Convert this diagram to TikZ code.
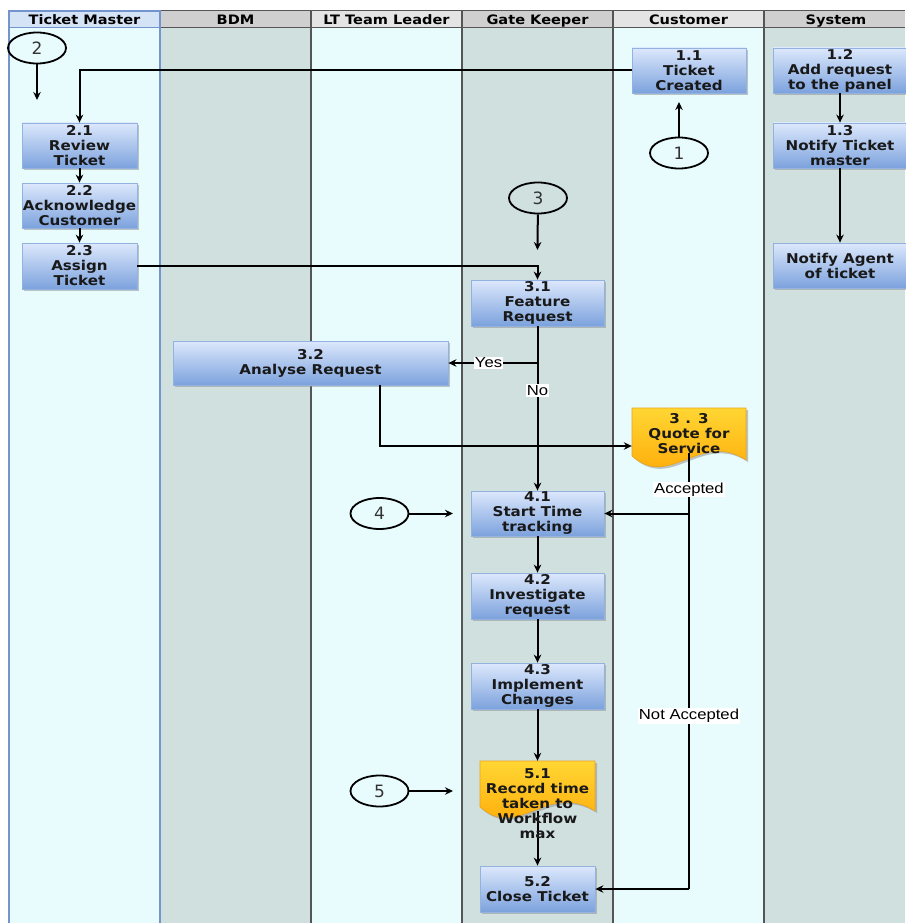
\documentclass[tikz,border=0pt]{standalone}
\usepackage{fontspec}
\newfontfamily\bxfont[FakeStretch=1.12]{DejaVu Sans}
\newfontfamily\numfont{DejaVu Sans}
\newfontfamily\lblfont[FakeStretch=1.15]{Liberation Sans}
\usetikzlibrary{shadows,arrows.meta,shapes.geometric}
\definecolor{laneA}{HTML}{E9FCFD}
\definecolor{laneB}{HTML}{CFE0DF}
\definecolor{hdA}{HTML}{CFCFCF}
\definecolor{hdB}{HTML}{E4E4E4}
\definecolor{hdTM}{HTML}{D5E3F6}
\definecolor{tmblue}{HTML}{7394CC}
\definecolor{boxtop}{HTML}{DCE8FC}
\definecolor{boxbot}{HTML}{7CA2DD}
\definecolor{boxline}{HTML}{93B2E0}
\definecolor{doctop}{HTML}{FFD633}
\definecolor{docbot}{HTML}{FFA200}
\definecolor{docline}{HTML}{E9A41A}
\definecolor{divider}{HTML}{555555}
\begin{document}
\begin{tikzpicture}[x=1pt,y=-1pt,
  shad/.style={drop shadow={shadow xshift=2pt,shadow yshift=-2pt,fill=black!45,opacity=.5}},
  box/.style={rectangle, draw=boxline, line width=0.8pt, top color=boxtop, bottom color=boxbot, shad,
    font=\bxfont\bfseries\fontsize{13.5}{15}\selectfont, align=center, inner sep=0pt, text=black!90},
  doctxt/.style={rectangle, inner sep=0pt, align=center, font=\bxfont\bfseries\fontsize{13.5}{15}\selectfont, text=black!90},
  docshape/.style={top color=doctop, bottom color=docbot, draw=docline, line width=0.6pt, shad},
  hdr/.style={font=\bxfont\bfseries\fontsize{13}{14}\selectfont, inner sep=0pt, anchor=base},
  ell/.style={ellipse, draw=black, line width=1.8pt, inner sep=0pt, minimum width=58pt, minimum height=31pt,
    font=\numfont\fontsize{17}{17}\selectfont, text=black!80},
  conn/.style={line width=2pt, black},
  arr/.style={conn, -{Stealth[length=8pt,width=7.5pt]}},
  lbl/.style={fill=white, inner sep=1pt, font=\lblfont\fontsize{14.5}{15}\selectfont}]
\useasboundingbox (0,0) rectangle (905,923);
% lanes
\fill[laneA] (9,28) rectangle (160,923);
\fill[laneB] (160,28) rectangle (311,923);
\fill[laneA] (311,28) rectangle (462,923);
\fill[laneB] (462,28) rectangle (613,923);
\fill[laneA] (613,28) rectangle (764,923);
\fill[laneB] (764,28) rectangle (905,923);
\fill[hdTM] (9,11) rectangle (160,28);
\fill[hdA] (160,11) rectangle (311,28);
\fill[hdB] (311,11) rectangle (462,28);
\fill[hdA] (462,11) rectangle (613,28);
\fill[hdB] (613,11) rectangle (764,28);
\fill[hdA] (764,11) rectangle (905,28);
\draw[divider, line width=1pt] (160,11) -- (905,11) (160,28) -- (905,28);
\foreach \x in {311,462,613,764} \draw[divider, line width=1.2pt] (\x,11) -- (\x,923);
\draw[tmblue, line width=1pt] (9,28) -- (160,28);
\draw[tmblue, line width=2.4pt] (9,11) rectangle (160,924);
\node[hdr] (h1) at (84.5,25) {Ticket Master};
\node[hdr] (h2) at (235.5,25) {BDM};
\node[hdr] (h3) at (386.5,25) {LT Team Leader};
\node[hdr] (h4) at (537.5,25) {Gate Keeper};
\node[hdr] (h5) at (688.5,25) {Customer};
\node[hdr] (h6) at (836,25) {System};
% document shapes
\path[docshape] (632,408) -- (746,408) -- (746,460) .. controls (700,430) and (670,490) .. (632,456) -- cycle;
\path[docshape] (480,761) -- (595,761) -- (595,811) .. controls (548,781) and (518,841) .. (480,807) -- cycle;
% boxes
\node[box, minimum width=114pt, minimum height=45pt] (n11) at (689,70.5) {1.1\\Ticket\\Created};
\node[box, minimum width=134pt, minimum height=45pt] (n12) at (840,70.5) {1.2\\Add request\\to the panel};
\node[box, minimum width=134pt, minimum height=45pt] (n13) at (840,145.5) {1.3\\Notify Ticket\\master};
\node[box, minimum width=134pt, minimum height=45pt] (nag) at (840,265.5) {Notify Agent\\of ticket};
\node[box, minimum width=115pt, minimum height=45pt] (n21) at (79.5,145.5) {2.1\\Review\\Ticket};
\node[box, minimum width=115pt, minimum height=45pt] (n22) at (79.5,205.5) {2.2\\Acknowledge\\Customer};
\node[box, minimum width=115pt, minimum height=46pt] (n23) at (79.5,266) {2.3\\Assign\\Ticket};
\node[box, minimum width=133pt, minimum height=46pt] (n31) at (537.5,303) {3.1\\Feature\\Request};
\node[box, minimum width=275pt, minimum height=44pt] (n32) at (310.5,363) {3.2\\Analyse Request};
\node[box, minimum width=133pt, minimum height=45pt] (n41) at (537.5,513.5) {4.1\\Start Time\\tracking};
\node[box, minimum width=133pt, minimum height=46pt] (n42) at (537.5,596) {4.2\\Investigate\\request};
\node[box, minimum width=133pt, minimum height=46pt] (n43) at (537.5,686) {4.3\\Implement\\Changes};
\node[box, minimum width=115pt, minimum height=46pt] (n52) at (537.5,889) {5.2\\Close Ticket};
\node[doctxt, minimum width=114pt, minimum height=52pt] (d33) at (689,434) {3 . 3\\Quote for\\Service};
\node[minimum width=115pt, minimum height=50pt, inner sep=0pt] (d51) at (537.5,786) {};
% ellipses
\node[ell] (e2) at (37,48) {2};
\node[ell] (e1) at (679,153) {1};
\node[ell] (e3) at (538,198) {3};
\node[ell] (e4) at (379.5,513.5) {4};
\node[ell] (e5) at (379.5,791) {5};
\coordinate (e2end) at (37,100);
\coordinate (e1end) at (679,102);
\coordinate (e3end) at (537.5,250);
\coordinate (e4end) at (453,513.5);
\coordinate (e5end) at (453,791);
\coordinate (yesj) at (537.5,363);
\coordinate (accj) at (689,513.5);
\coordinate (naj) at (689,889);
% connectors
\draw[arr] (e2) -- (e2end);
\draw[arr] (e1) -- (e1end);
\draw[arr] (e3) -- (e3end);
\draw[arr] (e4) -- (e4end);
\draw[arr] (e5) -- (e5end);
\draw[arr] (n11.west) -| (n21.north);
\draw[arr] (n21) -- (n22);
\draw[arr] (n22) -- (n23);
\draw[arr] (n23.east) -| (n31.north);
\draw[arr] (n12) -- (n13);
\draw[arr] (n13) -- (nag);
\draw[conn] (n31.south) -- (yesj);
\draw[arr] (yesj) -- (n32.east) node[lbl, pos=0.55] {Yes};
\draw[arr] (n31) -- (n41) node[lbl, pos=0.39] {No};
\draw[arr] ([xshift=69.5pt]n32.south) |- ([yshift=-12pt]d33.west);
\draw[conn] ([yshift=7pt]d33.south) -- (accj) node[lbl, pos=0.6] {Accepted};
\draw[arr] (accj) -- (n41.east);
\draw[conn] (accj) -- (naj) node[lbl, pos=0.539] {Not Accepted};
\draw[arr] (naj) -- (n52.east);
\draw[arr] (n41) -- (n42);
\draw[arr] (n42) -- (n43);
\draw[arr] (n43) -- (d51.north);
\draw[arr] (d51.south) -- (n52);
\node[doctxt] (t51) at (537.5,804) {5.1\\Record time\\taken to\\Workflow\\max};
\end{tikzpicture}
\end{document}
